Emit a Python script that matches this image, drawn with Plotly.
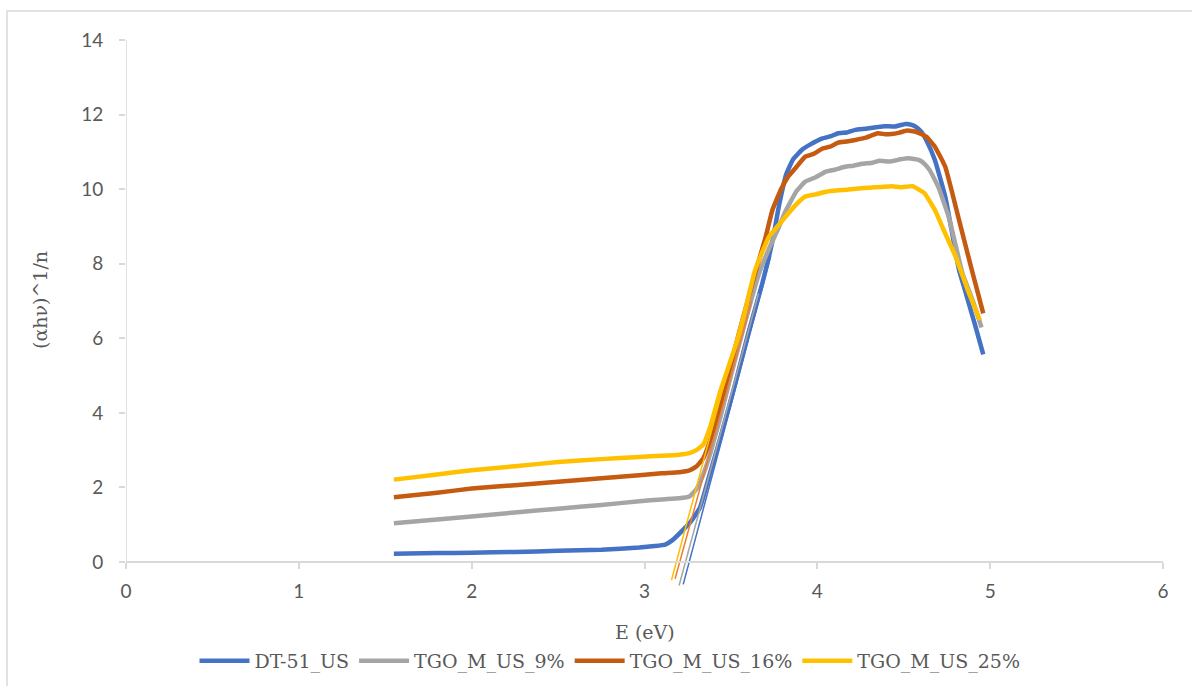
import plotly.graph_objects as go

# ---- data ----
blue_x = [1.55, 1.8, 2.0, 2.25, 2.5, 2.75, 2.97, 3.06, 3.12, 3.16, 3.22, 3.27, 3.32, 3.38, 3.44, 3.52, 3.60,
          3.68, 3.74, 3.78, 3.82, 3.86, 3.91, 3.96, 4.03, 4.08, 4.12, 4.17, 4.22, 4.28, 4.34, 4.39, 4.45,
          4.51, 4.55, 4.57, 4.60, 4.63, 4.68, 4.74, 4.82, 4.86, 4.91, 4.96]
blue_y = [0.22, 0.24, 0.25, 0.27, 0.30, 0.33, 0.39, 0.43, 0.47, 0.58, 0.85, 1.1, 1.45, 2.4, 3.35, 4.7, 6.13,
          7.45, 8.6, 9.6, 10.4, 10.8, 11.05, 11.2, 11.36, 11.42, 11.50, 11.52, 11.59, 11.62, 11.66, 11.69, 11.68,
          11.75, 11.72, 11.67, 11.55, 11.32, 10.78, 9.80, 7.83, 7.2, 6.4, 5.57]

gray_x = [1.55, 1.8, 2.0, 2.25, 2.5, 2.75, 2.97, 3.10, 3.20, 3.26, 3.30, 3.34, 3.38, 3.44, 3.50, 3.58, 3.66,
          3.72, 3.77, 3.81, 3.84, 3.88, 3.93, 3.99, 4.05, 4.10, 4.16, 4.21, 4.26, 4.32, 4.36, 4.42, 4.48,
          4.53, 4.59, 4.62, 4.65, 4.70, 4.76, 4.84, 4.90, 4.95]
gray_y = [1.04, 1.14, 1.22, 1.33, 1.43, 1.53, 1.63, 1.68, 1.71, 1.76, 1.95, 2.35, 2.9, 3.9, 5.0, 6.4, 7.7,
          8.4, 8.9, 9.35, 9.62, 9.95, 10.2, 10.32, 10.47, 10.52, 10.6, 10.63, 10.68, 10.71, 10.76, 10.74, 10.80,
          10.83, 10.78, 10.68, 10.51, 10.06, 9.26, 7.74, 7.0, 6.29]

orange_x = [1.55, 1.8, 2.0, 2.25, 2.5, 2.75, 2.97, 3.10, 3.20, 3.26, 3.30, 3.34, 3.38, 3.45, 3.55, 3.64, 3.70,
            3.74, 3.79, 3.83, 3.88, 3.93, 3.98, 4.03, 4.08, 4.12, 4.17, 4.22, 4.28, 4.35, 4.40, 4.47, 4.52,
            4.57, 4.63, 4.68, 4.74, 4.82, 4.89, 4.96]
orange_y = [1.74, 1.86, 1.97, 2.06, 2.15, 2.25, 2.33, 2.38, 2.41, 2.46, 2.56, 2.78, 3.27, 4.4, 6.2, 7.74, 8.7,
            9.44, 10.0, 10.33, 10.6, 10.87, 10.95, 11.09, 11.15, 11.25, 11.28, 11.32, 11.38, 11.50, 11.47, 11.51, 11.57,
            11.54, 11.41, 11.14, 10.60, 9.17, 7.9, 6.67]

yellow_x = [1.55, 1.8, 2.0, 2.25, 2.5, 2.75, 2.97, 3.10, 3.20, 3.26, 3.30, 3.34, 3.38, 3.44, 3.55, 3.64, 3.72,
            3.80, 3.87, 3.93, 3.99, 4.05, 4.12, 4.18, 4.24, 4.30, 4.37, 4.43, 4.49, 4.55, 4.62, 4.68, 4.74,
            4.80, 4.87, 4.94]
yellow_y = [2.21, 2.35, 2.46, 2.57, 2.68, 2.76, 2.82, 2.85, 2.88, 2.92, 3.0, 3.15, 3.62, 4.6, 6.13, 7.83, 8.72,
            9.17, 9.55, 9.80, 9.86, 9.93, 9.97, 9.99, 10.02, 10.04, 10.06, 10.08, 10.05, 10.08, 9.89, 9.44, 8.81,
            8.19, 7.3, 6.49]

# tangent (extrapolation) lines: [start, end]
blue_tan_x = [3.224, 3.73]
blue_tan_y = [-0.60, 8.2]
gray_tan_x = [3.20, 3.66]
gray_tan_y = [-0.63, 7.2]
orange_tan_x = [3.177, 3.62]
orange_tan_y = [-0.45, 7.0]
yellow_tan_x = [3.156, 3.56]
yellow_tan_y = [-0.49, 6.5]

names = ["DT-51_US", "TGO_M_US_9%", "TGO_M_US_16%", "TGO_M_US_25%"]
x_ticks = [0, 1, 2, 3, 4, 5, 6]
y_ticks = [0, 2, 4, 6, 8, 10, 12, 14]

colors = ["#4472C4", "#A5A5A5", "#C55A11", "#FFC000"]
tan_colors = ["#4472C4", "#A5A5A5", "#ED7D31", "#FFC000"]

series = [(blue_x, blue_y), (gray_x, gray_y), (orange_x, orange_y), (yellow_x, yellow_y)]
tangents = [(blue_tan_x, blue_tan_y), (gray_tan_x, gray_tan_y),
            (orange_tan_x, orange_tan_y), (yellow_tan_x, yellow_tan_y)]

SANS = "Lato"
SERIF = "DejaVu Serif"

fig = go.Figure()
for (xs, ys), nm, c in zip(series, names, colors):
    fig.add_trace(go.Scatter(x=xs, y=ys, name=nm, mode="lines",
                             line=dict(color=c, width=4.5, shape="spline", smoothing=0.35)))
for (xs, ys), c in zip(tangents, tan_colors):
    fig.add_trace(go.Scatter(x=xs, y=ys, mode="lines", showlegend=False, hoverinfo="skip",
                             line=dict(color=c, width=1.5)))

Y_MIN = -0.75
axis_gray = "#D9D9D9"
text_gray = "#595959"

fig.update_layout(
    width=1192, height=686,
    font=dict(family=SERIF),
    margin=dict(l=126, r=29, t=40, b=96, autoexpand=False),
    paper_bgcolor="white", plot_bgcolor="white",
    showlegend=True,
    legend=dict(orientation="h", x=(610 - 126) / 1037, xanchor="center", y=-0.129, yanchor="middle",
                font=dict(family=SERIF, size=19, color=text_gray),
                itemwidth=50),
    xaxis=dict(range=[0, 6], tickvals=x_ticks, showgrid=False, zeroline=False,
               showline=True, linecolor=axis_gray, linewidth=1.5,
               ticks="outside", ticklen=6, tickcolor=axis_gray, tickwidth=1.5,
               anchor="free", position=(0 - Y_MIN) / (14 - Y_MIN),
               ticklabelstandoff=6, automargin=False,
               tickfont=dict(family=SANS, size=19, color=text_gray)),
    yaxis=dict(range=[Y_MIN, 14], tickvals=y_ticks, showgrid=False, zeroline=False,
               showline=False, automargin=False,
               ticks="outside", ticklen=6, tickcolor=axis_gray, tickwidth=1.5,
               ticklabelstandoff=12,
               tickfont=dict(family=SANS, size=19, color=text_gray)),
    shapes=[
        dict(type="line", xref="x", yref="y", x0=0, x1=0, y0=0, y1=14,
             line=dict(color=axis_gray, width=1.5), layer="below"),
        dict(type="rect", xref="paper", yref="paper",
             x0=(7 - 126) / 1037, x1=1.2, y0=-0.3, y1=(590 - 11) / 550,
             line=dict(color="#D9D9D9", width=1.5), layer="below"),
    ],
    annotations=[
        dict(text="E (eV)", xref="paper", yref="paper", x=(645 - 126) / 1037, y=(590 - 632) / 550,
             showarrow=False, xanchor="center", yanchor="middle",
             font=dict(family=SERIF, size=19, color=text_gray)),
        dict(text="(αhν)^1/n", xref="paper", yref="paper", x=(40 - 126) / 1037, y=(590 - 300) / 550,
             showarrow=False, xanchor="center", yanchor="middle", textangle=-90,
             font=dict(family=SERIF, size=19, color=text_gray)),
    ],
)

fig.write_html("out.html")
